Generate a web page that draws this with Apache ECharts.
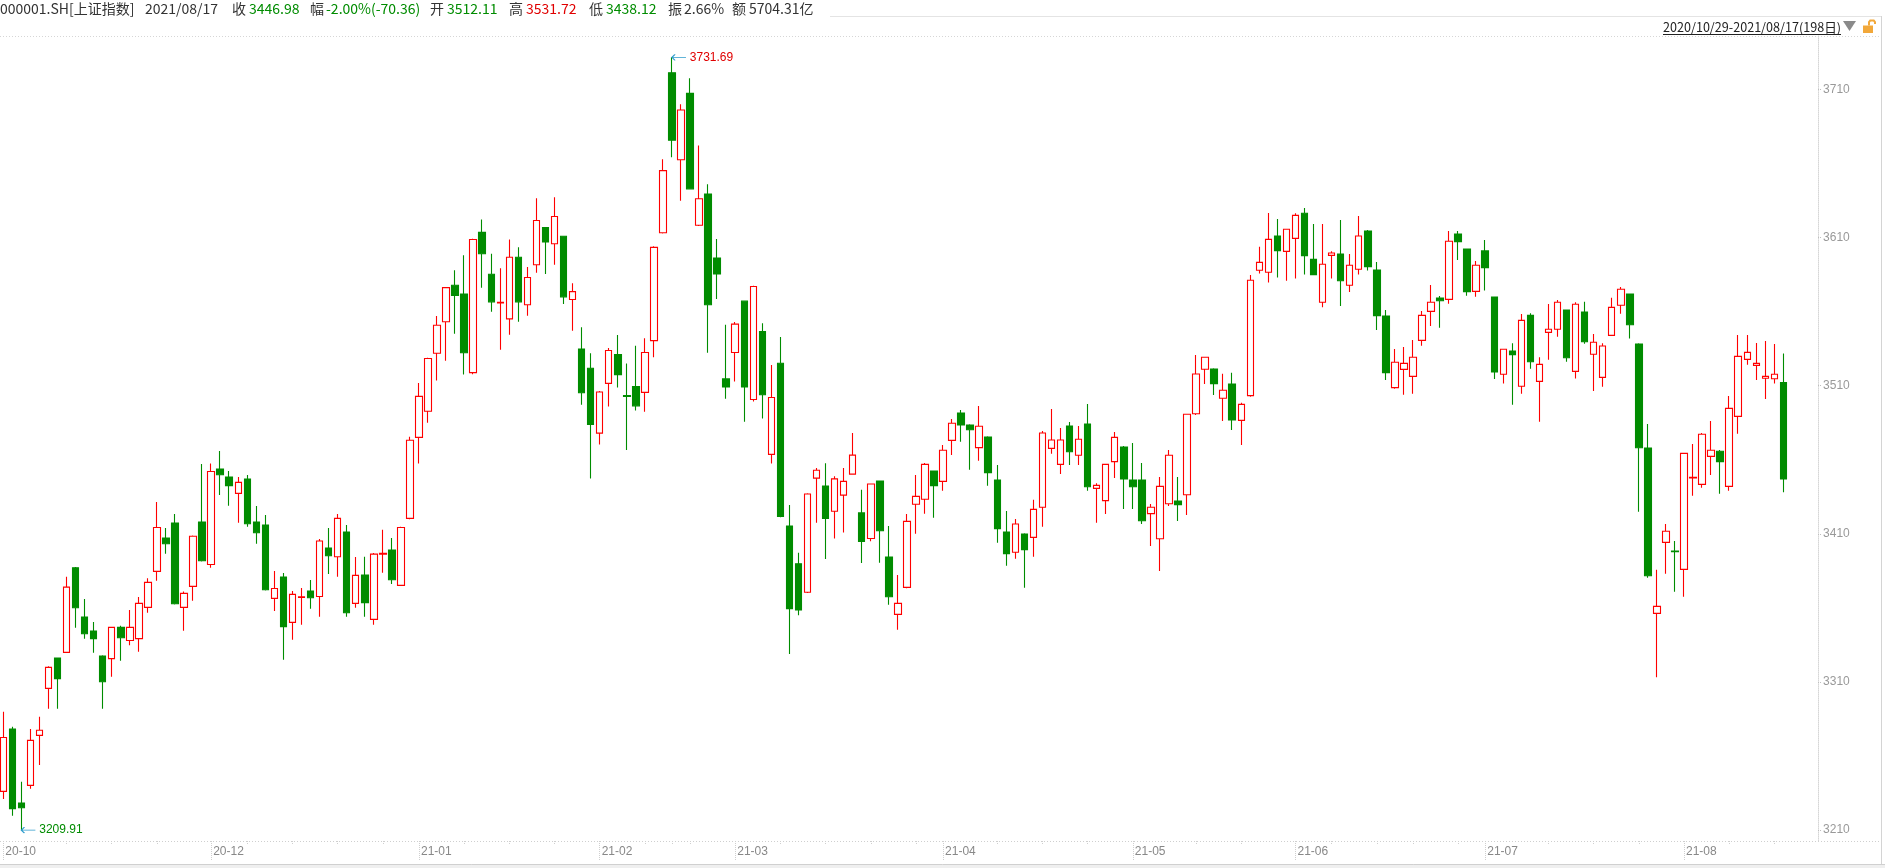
<!DOCTYPE html>
<html>
<head>
<meta charset="utf-8">
<title>000001.SH 上证指数</title>
<script src="https://cdn.jsdelivr.net/npm/echarts@6/dist/echarts.min.js"></script>
<style>
    html, body { margin: 0; padding: 0; background: #fff; }
    #container { width: 1885px; height: 868px; }
</style>
</head>
<body>
<div id="container"></div>
<script>
let dom = document.getElementById("container");
let myChart = echarts.init(dom);

// trading days, month by month
const tradeMonths = ['2020-10', '2020-11', '2020-12', '2021-01', '2021-02', '2021-03',
    '2021-04', '2021-05', '2021-06', '2021-07', '2021-08'];
const tradeDays = [
    [29, 30],
    [2, 3, 4, 5, 6, 9, 10, 11, 12, 13, 16, 17, 18, 19, 20, 23, 24, 25, 26, 27, 30],
    [1, 2, 3, 4, 7, 8, 9, 10, 11, 14, 15, 16, 17, 18, 21, 22, 23, 24, 25, 28, 29, 30, 31],
    [4, 5, 6, 7, 8, 11, 12, 13, 14, 15, 18, 19, 20, 21, 22, 25, 26, 27, 28, 29],
    [1, 2, 3, 4, 5, 8, 9, 10, 18, 19, 22, 23, 24, 25, 26],
    [1, 2, 3, 4, 5, 8, 9, 10, 11, 12, 15, 16, 17, 18, 19, 22, 23, 24, 25, 26, 29, 30, 31],
    [1, 2, 6, 7, 8, 9, 12, 13, 14, 15, 16, 19, 20, 21, 22, 23, 26, 27, 28, 29, 30],
    [6, 7, 10, 11, 12, 13, 14, 17, 18, 19, 20, 21, 24, 25, 26, 27, 28, 31],
    [1, 2, 3, 4, 7, 8, 9, 10, 11, 15, 16, 17, 18, 21, 22, 23, 24, 25, 28, 29, 30],
    [1, 2, 5, 6, 7, 8, 9, 12, 13, 14, 15, 16, 19, 20, 21, 22, 23, 26, 27, 28, 29, 30],
    [2, 3, 4, 5, 6, 9, 10, 11, 12, 13, 16, 17]
];

// [open, close, low, high]
const oct2020 = [
    [3236.1, 3272.5, 3230.9, 3289.9], [3278.2, 3224.4, 3219.6, 3279.7]
];
const nov2020 = [
    [3228.2, 3225.0, 3209.91, 3242.6], [3240.1, 3270.5, 3237.9, 3278.2], [3273.9, 3277.3, 3253.9, 3286.5],
    [3305.6, 3319.8, 3291.9, 3320.5], [3326.1, 3312.2, 3291.9, 3326.5], [3329.9, 3374.0, 3329.5, 3381.0],
    [3387.0, 3360.1, 3346.6, 3387.5], [3353.8, 3342.5, 3339.2, 3365.9], [3344.3, 3339.2, 3329.7, 3350.4],
    [3327.5, 3310.1, 3291.9, 3328.0], [3325.7, 3346.8, 3313.5, 3347.2], [3346.8, 3339.8, 3324.3, 3347.9],
    [3338.0, 3346.8, 3334.7, 3358.5], [3339.2, 3363.0, 3330.4, 3367.3], [3360.3, 3377.2, 3356.7, 3379.9],
    [3384.6, 3414.3, 3378.3, 3431.4], [3407.1, 3403.3, 3396.5, 3413.9], [3417.3, 3362.8, 3362.3, 3423.3],
    [3360.3, 3369.8, 3344.6, 3371.1], [3374.5, 3408.3, 3364.8, 3408.8], [3417.9, 3391.8, 3391.3, 3457.1]
];
const dec2020 = [
    [3389.3, 3452.1, 3387.1, 3457.5], [3453.7, 3449.9, 3436.2, 3465.9], [3448.3, 3442.5, 3429.0, 3452.4],
    [3437.3, 3444.7, 3417.5, 3448.3], [3447.0, 3416.8, 3414.8, 3449.7], [3417.9, 3410.7, 3403.3, 3428.7],
    [3415.9, 3372.2, 3371.7, 3422.7], [3366.4, 3373.1, 3357.8, 3384.8], [3380.8, 3347.3, 3325.0, 3383.5],
    [3350.2, 3369.1, 3338.5, 3371.3], [3367.1, 3367.5, 3348.6, 3373.4], [3371.3, 3366.8, 3359.4, 3378.8],
    [3367.7, 3405.1, 3354.0, 3406.5], [3400.4, 3395.2, 3382.8, 3413.9], [3394.5, 3420.4, 3381.0, 3423.3],
    [3411.2, 3356.7, 3354.0, 3415.9], [3363.0, 3381.9, 3360.1, 3394.3], [3382.1, 3363.5, 3354.0, 3394.5],
    [3352.2, 3396.3, 3348.6, 3397.0], [3396.3, 3396.8, 3383.7, 3412.8], [3399.0, 3379.0, 3376.1, 3407.1],
    [3375.2, 3414.3, 3374.8, 3414.8], [3420.4, 3473.2, 3419.9, 3475.6]
];
const jan2021 = [
    [3475.1, 3502.8, 3457.5, 3511.9], [3492.7, 3528.4, 3484.9, 3528.8], [3531.9, 3550.8, 3513.5, 3557.0],
    [3553.2, 3576.2, 3526.8, 3576.6], [3577.8, 3570.9, 3545.0, 3587.9], [3571.9, 3532.2, 3517.5, 3598.1],
    [3518.8, 3608.7, 3517.8, 3609.2], [3613.5, 3599.1, 3576.2, 3622.3], [3585.3, 3566.6, 3559.9, 3599.1],
    [3565.8, 3566.3, 3534.3, 3589.3], [3555.1, 3596.7, 3544.4, 3608.7], [3596.7, 3566.6, 3553.2, 3603.4],
    [3564.7, 3583.1, 3557.2, 3590.1], [3591.7, 3621.5, 3586.3, 3636.5], [3616.7, 3607.1, 3585.5, 3617.0],
    [3605.8, 3624.2, 3591.7, 3637.3], [3610.9, 3570.0, 3565.2, 3611.2], [3568.2, 3573.5, 3547.1, 3579.1],
    [3534.8, 3505.2, 3497.2, 3549.5], [3521.8, 3483.9, 3447.3, 3531.9]
];
const feb2021 = [
    [3478.0, 3505.7, 3470.3, 3506.5], [3511.6, 3533.8, 3495.9, 3535.4], [3531.1, 3517.5, 3508.7, 3544.2],
    [3503.4, 3502.8, 3466.5, 3525.0], [3509.5, 3496.4, 3493.2, 3536.9], [3505.5, 3532.4, 3492.4, 3542.0],
    [3540.4, 3603.4, 3529.2, 3604.2], [3613.3, 3655.2, 3612.8, 3662.9], [3721.3, 3675.8, 3664.2, 3731.69],
    [3662.6, 3696.2, 3634.9, 3700.0], [3707.4, 3642.9, 3642.4, 3717.6], [3618.3, 3636.2, 3617.8, 3672.2],
    [3639.4, 3564.7, 3532.2, 3646.1], [3596.2, 3585.5, 3568.5, 3609.0], [3514.6, 3509.2, 3501.2, 3551.1]
];
const mar2021 = [
    [3532.4, 3551.6, 3512.9, 3553.0], [3567.1, 3509.2, 3485.7, 3567.5], [3500.7, 3577.0, 3499.3, 3577.5],
    [3546.6, 3503.9, 3487.9, 3552.2], [3463.6, 3502.0, 3457.5, 3523.9], [3525.2, 3421.7, 3421.2, 3542.8],
    [3415.3, 3359.5, 3328.9, 3429.4], [3389.7, 3358.5, 3355.0, 3397.2], [3370.5, 3436.9, 3370.0, 3437.3],
    [3447.6, 3452.9, 3417.4, 3454.5], [3442.2, 3420.4, 3392.9, 3457.7], [3425.2, 3447.1, 3406.8, 3448.9],
    [3436.1, 3445.4, 3410.8, 3454.5], [3450.3, 3463.1, 3449.8, 3478.0], [3424.1, 3404.9, 3390.2, 3439.8],
    [3406.8, 3443.6, 3404.9, 3444.0], [3445.6, 3412.1, 3390.5, 3446.0], [3394.3, 3367.5, 3362.1, 3415.2],
    [3355.6, 3363.0, 3345.2, 3382.2], [3373.8, 3418.4, 3373.3, 3423.4], [3429.9, 3435.3, 3410.1, 3449.7],
    [3433.3, 3456.9, 3423.6, 3457.8], [3452.4, 3442.5, 3420.9, 3452.8]
];
const apr2021 = [
    [3445.4, 3466.4, 3439.1, 3469.9], [3473.1, 3484.6, 3463.2, 3487.5], [3491.6, 3483.5, 3472.2, 3493.6],
    [3483.5, 3480.3, 3453.3, 3483.9], [3468.2, 3482.6, 3459.4, 3496.3], [3475.4, 3451.3, 3442.5, 3475.8],
    [3446.3, 3413.5, 3404.0, 3456.4], [3411.2, 3396.6, 3388.5, 3425.4], [3397.5, 3416.6, 3393.2, 3420.0],
    [3409.9, 3399.3, 3373.6, 3410.3], [3407.6, 3426.5, 3394.5, 3433.0], [3427.9, 3478.1, 3414.8, 3479.4],
    [3467.7, 3473.3, 3464.1, 3494.3], [3456.9, 3473.3, 3450.4, 3481.4], [3482.8, 3465.4, 3456.4, 3485.5],
    [3463.0, 3473.8, 3456.4, 3482.8], [3484.1, 3441.8, 3439.1, 3497.6], [3440.7, 3442.7, 3417.5, 3444.1],
    [3432.4, 3456.9, 3423.4, 3457.3], [3458.7, 3475.1, 3447.7, 3478.7], [3468.6, 3447.0, 3426.7, 3469.3]
];
const may2021 = [
    [3446.3, 3441.8, 3426.7, 3471.3], [3446.3, 3418.8, 3416.6, 3457.8], [3423.6, 3427.9, 3401.7, 3430.1],
    [3406.7, 3442.0, 3384.9, 3448.3], [3430.3, 3463.0, 3428.8, 3466.6], [3432.1, 3429.7, 3418.6, 3448.3],
    [3436.4, 3490.7, 3422.7, 3491.1], [3491.1, 3517.9, 3490.2, 3530.7], [3521.1, 3529.2, 3511.1, 3529.6],
    [3521.3, 3511.4, 3503.7, 3521.7], [3501.5, 3506.9, 3486.2, 3518.1], [3511.1, 3486.8, 3480.1, 3518.8],
    [3486.6, 3497.4, 3470.0, 3498.5], [3503.3, 3581.2, 3502.6, 3584.8], [3587.9, 3593.3, 3585.7, 3603.9],
    [3586.6, 3608.8, 3579.6, 3626.6], [3611.1, 3601.2, 3583.0, 3622.6], [3600.7, 3615.6, 3580.9, 3616.0]
];
const jun2021 = [
    [3609.5, 3625.0, 3582.3, 3626.4], [3626.4, 3597.8, 3585.0, 3630.0], [3595.3, 3585.0, 3584.6, 3619.2],
    [3566.3, 3592.0, 3562.9, 3619.2], [3598.0, 3599.6, 3582.3, 3600.7], [3598.9, 3580.9, 3563.8, 3621.9],
    [3577.8, 3591.3, 3573.3, 3598.9], [3588.6, 3611.1, 3585.0, 3624.6], [3614.5, 3590.4, 3587.7, 3615.1],
    [3588.1, 3557.3, 3547.6, 3593.5], [3557.1, 3518.8, 3513.8, 3561.1], [3508.7, 3525.8, 3508.0, 3534.8],
    [3521.0, 3525.1, 3503.9, 3536.1], [3516.3, 3529.2, 3504.6, 3540.9], [3540.6, 3557.5, 3537.0, 3560.4],
    [3560.2, 3566.3, 3550.3, 3578.0], [3569.2, 3567.4, 3549.2, 3570.6], [3568.3, 3607.5, 3565.4, 3614.5],
    [3612.4, 3607.3, 3594.9, 3614.5], [3602.3, 3573.5, 3570.8, 3602.7], [3573.7, 3591.3, 3570.1, 3594.2]
];
const jul2021 = [
    [3601.0, 3589.7, 3574.2, 3608.4], [3569.9, 3519.3, 3514.5, 3570.3], [3517.7, 3534.6, 3511.4, 3535.0],
    [3533.4, 3531.0, 3497.2, 3538.6], [3509.6, 3554.1, 3504.6, 3558.4], [3557.5, 3526.2, 3521.5, 3558.9],
    [3512.9, 3524.4, 3485.7, 3529.2], [3546.0, 3548.1, 3527.6, 3565.2], [3548.1, 3566.3, 3543.1, 3567.9],
    [3561.1, 3528.9, 3526.2, 3561.5], [3519.7, 3565.0, 3514.8, 3566.3], [3559.8, 3539.7, 3538.4, 3566.7],
    [3531.2, 3539.3, 3506.4, 3544.9], [3515.6, 3536.8, 3509.3, 3538.6], [3544.0, 3562.9, 3543.6, 3569.4],
    [3564.3, 3575.1, 3558.6, 3576.6], [3571.9, 3551.2, 3541.8, 3572.3], [3538.2, 3468.1, 3424.9, 3538.6],
    [3467.9, 3381.7, 3380.4, 3484.1], [3356.3, 3361.0, 3313.1, 3385.8], [3404.2, 3411.7, 3383.1, 3416.6],
    [3398.4, 3397.9, 3370.9, 3405.1]
];
const aug2021 = [
    [3386.0, 3464.3, 3367.5, 3464.7], [3447.7, 3448.1, 3435.7, 3470.6], [3443.4, 3477.2, 3441.1, 3478.1],
    [3462.3, 3466.4, 3449.7, 3486.2], [3465.7, 3458.7, 3437.1, 3466.6], [3442.0, 3494.7, 3439.1, 3503.0],
    [3489.3, 3529.8, 3477.6, 3544.2], [3527.8, 3532.5, 3524.2, 3544.2], [3523.7, 3525.1, 3513.8, 3538.8],
    [3515.0, 3516.3, 3501.0, 3540.2], [3514.7, 3517.7, 3511.4, 3538.2], [3512.11, 3446.98, 3438.12, 3531.72]
];

const axisMonths = ['20-10', '20-12', '21-01', '21-02', '21-03', '21-04', '21-05', '21-06', '21-07', '21-08'];
const priceTicks = [3210, 3310, 3410, 3510, 3610, 3710];
const padSlots = ['pad-1', 'pad-2', 'pad-3'];

const highPoint = [74, 3731.69];
const lowPoint = [2, 3209.91];

const headerTexts = ['000001.SH[上证指数]', '2021/08/17', '收', '3446.98', '幅', '-2.00%(-70.36)',
    '开', '3512.11', '高', '3531.72', '低', '3438.12', '振', '2.66%', '额', '5704.31亿'];
const headerTone = ['k', 'k', 'k', 'dn', 'k', 'dn', 'k', 'dn', 'k', 'up', 'k', 'dn', 'k', 'k', 'k', 'k'];
const rangeText = '2020/10/29-2021/08/17(198日)';

const upColor = '#ff0000';
const downColor = '#008c00';
const toneColor = {k: '#333333', up: '#e00000', dn: '#008c00'};

let candles = [].concat(oct2020, nov2020, dec2020, jan2021, feb2021, mar2021,
    apr2021, may2021, jun2021, jul2021, aug2021);

let dates = [];
tradeMonths.forEach(function (m, i) {
    tradeDays[i].forEach(function (d) {
        dates.push(m + '-' + (d < 10 ? '0' + d : d));
    });
});

// first trading day of each labelled month
let monthStart = {};
axisMonths.forEach(function (lab) {
    let idx = dates.findIndex(function (d) {
        return d.indexOf('20' + lab) === 0;
    });
    monthStart[idx] = lab;
});

// first trading day of each week, kept away from month ticks
let weekStart = {};
for (let i = 1; i < dates.length; i++) {
    let prev = new Date(dates[i - 1]);
    let cur = new Date(dates[i]);
    if (cur.getUTCDay() <= prev.getUTCDay() || cur - prev >= 7 * 86400000) {
        let near = false;
        for (let k = i - 2; k <= i + 2; k++) {
            if (monthStart[k] !== undefined) near = true;
        }
        if (!near) weekStart[i] = true;
    }
}

let categories = dates.concat(padSlots);

/**
 * header, frame lines and icons
 */
const headerX = [0, 145, 232, 249, 310, 326, 430, 447, 509, 526, 589, 606, 668, 684, 732, 749];
let graphics = [];
headerTexts.forEach(function (t, i) {
    graphics.push({
        type: 'text',
        style: {
            text: t, x: headerX[i], y: 9,
            fill: toneColor[headerTone[i]],
            font: '14px "Noto Sans CJK SC", "Noto Sans", sans-serif',
            verticalAlign: 'middle'
        }
    });
});

function hLine(y, x1, x2, color, dash) {
    return {
        type: 'line', silent: true,
        shape: {x1: x1, y1: y, x2: x2, y2: y},
        style: {stroke: color, lineWidth: 1, lineDash: dash ? [1, 2] : null}
    };
}

graphics.push(hLine(16.5, 830, 1882, '#e4e4e4', false));
graphics.push(hLine(36.5, 0, 1881, '#d6d6d6', true));
graphics.push(hLine(841.5, 0, 1881, '#cfcfcf', true));
graphics.push({
    type: 'line', silent: true,
    shape: {x1: 1881.5, y1: 16, x2: 1881.5, y2: 864},
    style: {stroke: '#d4d4d4', lineWidth: 1}
});
graphics.push({
    type: 'rect', silent: true,
    shape: {x: 0, y: 864, width: 1885, height: 4},
    style: {fill: '#efefef', stroke: null}
});
graphics.push(hLine(864.5, 0, 1885, '#d0d0d0', false));
graphics.push({
    type: 'text',
    style: {
        text: rangeText, x: 1663, y: 27, fill: '#222',
        font: '12.6px "Noto Sans CJK SC", "Noto Sans", sans-serif',
        verticalAlign: 'middle'
    }
});
graphics.push(hLine(34.5, 1663, 1841, '#222', false));
graphics.push({
    type: 'polygon', silent: true,
    shape: {points: [[1843, 21], [1856, 21], [1849.5, 31]]},
    style: {fill: '#8a8a8a'}
});
graphics.push({
    type: 'rect', silent: true,
    shape: {x: 1863, y: 25.5, width: 10, height: 7.5},
    style: {fill: '#f2a83a'}
});
graphics.push({
    type: 'polyline', silent: true,
    shape: {points: [[1869, 25.5], [1869, 22], [1870.2, 20.6], [1873.8, 20.6], [1875, 22], [1875, 24]]},
    style: {fill: null, stroke: '#f2a83a', lineWidth: 2}
});

let option = {
    animation: false,
    backgroundColor: '#fff',
    graphic: graphics,
    grid: {
        left: -1.2,
        top: 36,
        width: 201 * 9.036,
        height: 805,
        containLabel: false,
        outerBoundsMode: 'none'
    },
    xAxis: [{
        type: 'category',
        data: categories,
        boundaryGap: true,
        position: 'bottom',
        axisLine: {show: false},
        axisTick: {
            show: true,
            alignWithLabel: true,
            length: 20,
            interval: function (index) {
                return monthStart[index] !== undefined;
            },
            lineStyle: {color: '#cfcfcf', type: 'dotted'}
        },
        axisLabel: {
            show: true,
            interval: function (index) {
                return monthStart[index] !== undefined;
            },
            formatter: function (value) {
                return value.slice(2, 7);
            },
            align: 'left',
            padding: [0, 0, 0, 2],
            margin: 5,
            color: '#888',
            fontSize: 12,
            fontFamily: '"Liberation Sans", Arial, sans-serif'
        },
        splitLine: {show: false}
    }, {
        type: 'category',
        data: categories,
        boundaryGap: true,
        position: 'bottom',
        axisLine: {show: false},
        axisLabel: {show: false},
        axisTick: {
            show: true,
            alignWithLabel: true,
            length: 4,
            interval: function (index) {
                return weekStart[index] === true;
            },
            lineStyle: {color: '#cfcfcf', type: 'dotted'}
        },
        splitLine: {show: false}
    }],
    yAxis: {
        type: 'value',
        position: 'right',
        offset: 3,
        min: 3202.57,
        max: 3746.12,
        scale: true,
        axisLine: {show: true, lineStyle: {color: '#d6d6d6', type: 'dotted'}},
        axisTick: {
            show: true,
            length: 3,
            customValues: priceTicks,
            lineStyle: {color: '#bdbdbd', type: 'dotted'}
        },
        axisLabel: {
            customValues: priceTicks,
            margin: 5,
            color: '#999',
            fontSize: 12,
            fontFamily: '"Liberation Sans", Arial, sans-serif',
            formatter: function (v) {
                return String(v);
            }
        },
        splitLine: {show: false}
    },
    series: [{
        type: 'candlestick',
        xAxisIndex: 0,
        data: candles,
        barWidth: 7,
        itemStyle: {
            color: '#ffffff',
            color0: downColor,
            borderColor: upColor,
            borderColor0: downColor,
            borderWidth: 1.1
        },
        markPoint: {
            symbol: 'path://M0,3L14,3M3,0L0,3L3,6',
            symbolSize: [14, 6],
            symbolOffset: [7, 0],
            symbolKeepAspect: false,
            itemStyle: {color: 'none', borderColor: '#2f9ccc', borderWidth: 1},
            label: {
                show: true,
                position: 'right',
                distance: 0,
                fontSize: 12,
                fontFamily: '"Liberation Sans", Arial, sans-serif',
                formatter: function (p) {
                    return p.value.toFixed(2);
                }
            },
            data: [
                {coord: [dates[highPoint[0]], highPoint[1]], value: highPoint[1], label: {color: '#e00000'}},
                {coord: [dates[lowPoint[0]], lowPoint[1]], value: lowPoint[1], label: {color: '#008c00'}}
            ]
        }
    }]
};

if (option && typeof option === "object") {
    myChart.setOption(option, true);
}
</script>
</body>
</html>
